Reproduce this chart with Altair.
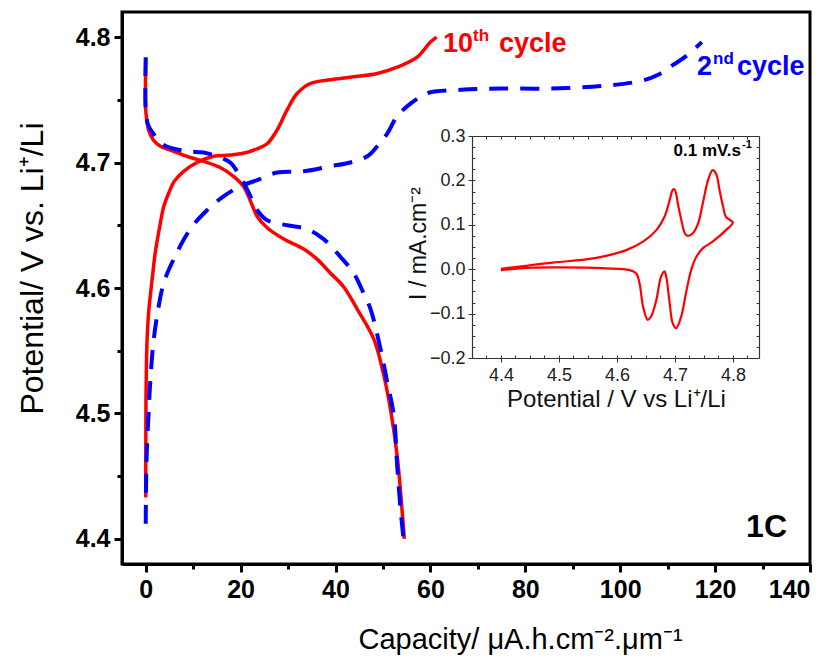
import altair as alt
import pandas as pd

# ---------------- main plot: capacity (µA.h.cm-2.µm-1) vs potential (V) ----------------
red_charge_cap = [0.0, 0.02, 0.05, 0.15, 0.3, 0.6, 1.0, 1.5, 2.0, 3.0, 3.8, 5.0, 6.0, 8.0, 10.8,
                  14.3, 17.8, 21.3, 23.5, 25.6, 27.7, 29.8, 31.9, 34.7, 38.9, 43.1, 48.8, 53.0,
                  57.2, 60.0, 61.3]
red_charge_pot = [4.433, 4.47, 4.51, 4.54, 4.56, 4.58, 4.595, 4.612, 4.628, 4.65, 4.665, 4.677,
                  4.685, 4.693, 4.700, 4.705, 4.706, 4.708, 4.711, 4.715, 4.726, 4.742, 4.755,
                  4.763, 4.766, 4.768, 4.771, 4.776, 4.784, 4.796, 4.800]

red_dis_cap = [0.0, 0.0, 0.2, 0.6, 1.6, 3.1, 5.9, 9.4, 12.2, 15.7, 18.5, 20.6, 22.0, 23.5, 25.6,
               29.1, 33.3, 36.1, 38.9, 41.7, 44.6, 48.1, 50.2, 51.6, 53.0, 54.0, 54.5]
red_dis_pot = [4.783, 4.742, 4.735, 4.726, 4.718, 4.713, 4.709, 4.704, 4.701, 4.696, 4.689,
               4.681, 4.670, 4.657, 4.648, 4.639, 4.631, 4.623, 4.612, 4.601, 4.583, 4.559,
               4.530, 4.503, 4.466, 4.424, 4.400]

blue_charge_cap = [0.0, 0.1, 0.25, 0.6, 0.95, 1.6, 2.4, 3.8, 5.9, 9.4, 12.9, 16.4, 19.9, 23.5,
                   27.7, 33.3, 38.9, 43.1, 46.7, 48.8, 50.9, 53.0, 55.8, 58.6, 60.0, 66.4, 74.8,
                   85.3, 95.9, 104.3, 108.0, 111.2, 113.6, 117.2]
blue_charge_pot = [4.412, 4.45, 4.472, 4.50, 4.525, 4.556, 4.578, 4.604, 4.623, 4.647, 4.662,
                   4.673, 4.681, 4.686, 4.692, 4.693, 4.697, 4.700, 4.705, 4.713, 4.723, 4.737,
                   4.747, 4.754, 4.756, 4.758, 4.759, 4.759, 4.761, 4.765, 4.770, 4.778, 4.784,
                   4.796]

blue_dis_cap = [0.0, 0.0, 0.5, 1.6, 3.8, 8.7, 12.2, 15.7, 17.8, 19.9, 21.7, 23.5, 25.6, 29.8,
                34.0, 37.5, 41.0, 43.8, 45.9, 47.4, 49.5, 50.9, 52.3, 53.0, 53.7, 54.3]
blue_dis_pot = [4.784, 4.742, 4.730, 4.723, 4.714, 4.709, 4.708, 4.704, 4.700, 4.689, 4.676,
                4.662, 4.654, 4.650, 4.647, 4.639, 4.625, 4.612, 4.596, 4.583, 4.551, 4.525,
                4.498, 4.458, 4.424, 4.401]

x_major_ticks = [0, 20, 40, 60, 80, 100, 120, 140]
x_minor_ticks = [10, 30, 50, 70, 90, 110, 130]
y_major_ticks = [4.4, 4.5, 4.6, 4.7, 4.8]
y_minor_ticks = [4.45, 4.55, 4.65, 4.75]

# ---------------- inset: cyclic voltammogram ----------------
cv_v = [4.400, 4.432, 4.489, 4.547, 4.581, 4.616, 4.645, 4.668, 4.682, 4.691, 4.696, 4.699,
        4.702, 4.705, 4.711, 4.717, 4.722, 4.731, 4.740, 4.748, 4.757, 4.765, 4.771, 4.777,
        4.783, 4.788, 4.795, 4.800,
        4.788, 4.765, 4.748, 4.737, 4.728, 4.719, 4.711, 4.702, 4.696, 4.691, 4.685, 4.682,
        4.676, 4.668, 4.659, 4.653, 4.645, 4.639, 4.633, 4.622, 4.581, 4.489, 4.432, 4.400]
cv_i = [0.001, 0.006, 0.015, 0.022, 0.030, 0.043, 0.062, 0.088, 0.118, 0.156, 0.178, 0.180,
        0.170, 0.148, 0.111, 0.081, 0.075, 0.081, 0.103, 0.148, 0.200, 0.223, 0.215, 0.178,
        0.141, 0.118, 0.111, 0.105,
        0.088, 0.062, 0.047, 0.028, -0.002, -0.054, -0.106, -0.133, -0.121, -0.077, -0.017,
        -0.005, -0.017, -0.069, -0.106, -0.114, -0.084, -0.032, -0.009, -0.002, 0.002, 0.004,
        0.002, -0.002]

ix_major_ticks = [4.4, 4.5, 4.6, 4.7, 4.8]
iy_major_ticks = [-0.2, -0.1, 0.0, 0.1, 0.2, 0.3]
ix_minor_ticks = [round(4.35 + 0.025 * k, 3) for k in range(20)]
iy_minor_ticks = [round(-0.2 + 0.025 * k, 3) for k in range(21)]

# ---------------- labels ----------------
label_texts = ["10", "th", "cycle", "2", "nd", "cycle", "1C", "0.1 mV.s", "-1"]

FONT = "Liberation Sans"
RED = "#ff0000"
BLUE = "#0000ff"
W, H = 688, 552


def branch(cap, pot, cycle, name):
    return pd.DataFrame({"cap": cap, "pot": pot, "cycle": cycle, "branch": name,
                         "i": list(range(len(cap)))})


red_df = pd.concat([branch(red_charge_cap, red_charge_pot, "10th", "charge"),
                    branch(red_dis_cap, red_dis_pot, "10th", "discharge")])
blue_df = pd.concat([branch(blue_charge_cap, blue_charge_pot, "2nd", "charge"),
                     branch(blue_dis_cap, blue_dis_pot, "2nd", "discharge")])
cv_df = pd.DataFrame({"v": cv_v, "cur": cv_i, "k": list(range(len(cv_v)))})

xs = alt.Scale(domain=[-5, 140], nice=False, zero=False)
ys = alt.Scale(domain=[4.38, 4.82], nice=False, zero=False)

x_major = alt.Axis(orient="bottom", values=x_major_ticks, format="d", tickSize=8, tickWidth=3,
                   tickColor="black", domainColor="black", domainWidth=3, labelFont=FONT,
                   labelFontWeight="bold", labelFontSize=25, labelColor="black", labelPadding=5,
                   grid=False, title="Capacity/ μA.h.cm⁻².μm⁻¹", titleFont=FONT,
                   titleFontSize=29, titleFontWeight="normal", titleColor="black",
                   titleX=398, titleY=84, titleBaseline="alphabetic")
y_major = alt.Axis(orient="left", values=y_major_ticks, format=".1f", tickSize=8, tickWidth=3,
                   tickColor="black", domainColor="black", domainWidth=3, labelFont=FONT,
                   labelFontWeight="bold", labelFontSize=25, labelColor="black", labelPadding=4,
                   grid=False, title="Potential/ V vs. Li⁺/Li", titleFont=FONT,
                   titleFontSize=32, titleFontWeight="normal", titleColor="black",
                   titleX=-80, titleY=256, titleAngle=270, titleBaseline="alphabetic")
x_minor = alt.Axis(orient="bottom", values=x_minor_ticks, labels=False, tickSize=5, tickWidth=3,
                   tickColor="black", domain=False, grid=False, title=None)
y_minor = alt.Axis(orient="left", values=y_minor_ticks, labels=False, tickSize=5, tickWidth=3,
                   tickColor="black", domain=False, grid=False, title=None)

minor_layer = alt.Chart(red_df).mark_line(strokeOpacity=0).encode(
    x=alt.X("cap:Q", scale=xs, axis=x_minor),
    y=alt.Y("pot:Q", scale=ys, axis=y_minor),
    detail="branch:N", order="i:Q")

red_layer = alt.Chart(red_df).mark_line(color=RED, strokeWidth=3.5, strokeJoin="round",
                                         interpolate="catmull-rom").encode(
    x=alt.X("cap:Q", scale=xs, axis=x_major),
    y=alt.Y("pot:Q", scale=ys, axis=y_major),
    detail="branch:N", order="i:Q")

blue_layer = alt.Chart(blue_df).mark_line(color=BLUE, strokeWidth=4, strokeDash=[19, 12],
                                           strokeCap="butt", interpolate="catmull-rom").encode(
    x=alt.X("cap:Q", scale=xs, axis=None),
    y=alt.Y("pot:Q", scale=ys, axis=None),
    detail="branch:N", order="i:Q")

main = alt.layer(minor_layer, red_layer, blue_layer).resolve_axis(x="independent", y="independent")

# inset scales placed in pixel ranges inside the main plot
IX0, IX1, IY0, IY1 = 350, 637, 124, 346
ixs = alt.Scale(domain=[4.35, 4.845], range=[IX0, IX1], nice=False, zero=False)
iys = alt.Scale(domain=[-0.2, 0.3], range=[IY1, IY0], nice=False, zero=False)
GR = "#333333"

ix_major = alt.Axis(orient="bottom", offset=IY1 - H, values=ix_major_ticks, format=".1f",
                    tickSize=4, tickWidth=1, tickColor=GR, domainColor=GR, domainWidth=1.2,
                    labelFont=FONT, labelFontSize=18, labelColor="#222222", labelPadding=4,
                    grid=False, title="Potential / V vs Li⁺/Li", titleFont=FONT,
                    titleFontSize=24, titleFontWeight="normal", titleColor="#111111",
                    titleX=494, titleY=48, titleBaseline="alphabetic")
iy_major = alt.Axis(orient="left", offset=-IX0, values=iy_major_ticks, format=".1f",
                    tickSize=4, tickWidth=1, tickColor=GR, domainColor=GR, domainWidth=1.2,
                    labelFont=FONT, labelFontSize=18, labelColor="#222222", labelPadding=3,
                    grid=False, title="I / mA.cm⁻²", titleFont=FONT, titleFontSize=23,
                    titleFontWeight="normal", titleColor="#111111", titleX=-47, titleY=231,
                    titleAngle=270, titleBaseline="alphabetic")
# inward minor ticks on the left / bottom edges
ix_in = alt.Axis(orient="top", offset=-IY1, values=ix_minor_ticks, labels=False, tickSize=3,
                 tickWidth=1, tickColor=GR, domain=False, grid=False, title=None)
iy_in = alt.Axis(orient="right", offset=IX0 - W, values=iy_minor_ticks, labels=False, tickSize=3,
                 tickWidth=1, tickColor=GR, domain=False, grid=False, title=None)
# top / right frame with inward ticks
ix_top = alt.Axis(orient="bottom", offset=IY0 - H, values=ix_minor_ticks, labels=False,
                  tickSize=3, tickWidth=1, tickColor=GR, domainColor=GR, domainWidth=1.2,
                  grid=False, title=None)
iy_right = alt.Axis(orient="left", offset=-IX1, values=iy_minor_ticks, labels=False,
                    tickSize=3, tickWidth=1, tickColor=GR, domainColor=GR, domainWidth=1.2,
                    grid=False, title=None)

inset_line = alt.Chart(cv_df).mark_line(color=RED, strokeWidth=2.2,
                                         interpolate="catmull-rom").encode(
    x=alt.X("v:Q", scale=ixs, axis=ix_major),
    y=alt.Y("cur:Q", scale=iys, axis=iy_major),
    order="k:Q")
inset_in = alt.Chart(cv_df).mark_line(strokeOpacity=0).encode(
    x=alt.X("v:Q", scale=ixs, axis=ix_in),
    y=alt.Y("cur:Q", scale=iys, axis=iy_in),
    order="k:Q")
inset_frame = alt.Chart(cv_df).mark_line(strokeOpacity=0).encode(
    x=alt.X("v:Q", scale=ixs, axis=ix_top),
    y=alt.Y("cur:Q", scale=iys, axis=iy_right),
    order="k:Q")

inset = alt.layer(inset_in, inset_frame, inset_line).resolve_axis(x="independent",
                                                                    y="independent")


def label(text, px, py, size, color, align="left"):
    return alt.Chart(pd.DataFrame({"t": [text]})).mark_text(
        font=FONT, fontWeight="bold", fontSize=size, color=color, align=align,
        baseline="alphabetic").encode(text="t:N", x=alt.value(px), y=alt.value(py))


texts = alt.layer(
    label(label_texts[0], 321, 40, 27, RED),
    label(label_texts[1], 351, 29, 17, RED),
    label(label_texts[2], 377, 40, 27, RED),
    label(label_texts[3], 575, 63, 27, BLUE),
    label(label_texts[4], 591, 52, 17, BLUE),
    label(label_texts[5], 615, 63, 27, BLUE),
    label(label_texts[6], 665, 525, 32, "black", "right"),
    label(label_texts[7], 619, 144, 17, "black", "right"),
    label(label_texts[8], 620, 136, 11, "black"),
)

chart = alt.layer(main, inset, texts).resolve_scale(
    x="independent", y="independent"
).properties(
    width=W, height=H,
    autosize=alt.AutoSizeParams(type="none"),
    padding={"left": 114, "top": 4, "right": 18, "bottom": 91},
).configure_view(stroke="black", strokeWidth=3)

chart.save("out.html", embed_options={"renderer": "svg", "actions": False})
